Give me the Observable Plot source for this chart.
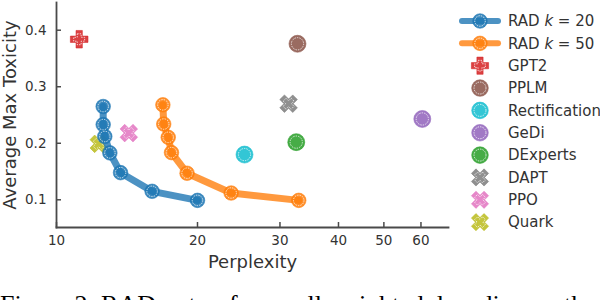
<!DOCTYPE html>
<html>
<head>
<meta charset="utf-8">
<script src="https://cdn.jsdelivr.net/npm/d3@7"></script>
<script src="https://cdn.jsdelivr.net/npm/@observablehq/plot@0.6"></script>
<style>
  html, body { margin: 0; padding: 0; background: #fff; }
  #wrap { position: relative; width: 600px; height: 300px; overflow: hidden; }
  #chart { position: absolute; left: 0; top: 0; }
  #legend { position: absolute; left: 455px; top: 0; }
  #ylabel { position: absolute; left: -110.4px; top: 105.5px; width: 240px; height: 18px;
    line-height: 18px; text-align: center; transform: rotate(-90deg);
    font-family: "DejaVu Sans", sans-serif; font-size: 18px; color: #333; white-space: nowrap; }
  #caption { position: absolute; left: 0; top: 292px; white-space: nowrap;
    font-family: "Liberation Serif", serif; font-size: 26px; line-height: 1; color: #000; }
</style>
</head>
<body>
<div id="wrap">
  <div id="chart"></div>
  <div id="ylabel">Average Max Toxicity</div>
  <div id="legend"></div>
  <div id="caption">Figure 2: RAD outperforms all weighted decoding methods</div>
</div>
<script>
// ---- data ----
const rad20Ppl = [12.58, 12.58, 12.68, 13.0, 13.7, 16.0, 20.0];
const rad20Tox = [0.265, 0.233, 0.212, 0.183, 0.148, 0.115, 0.099];
const rad50Ppl = [16.87, 16.94, 17.32, 17.6, 19.0, 23.6, 32.9];
const rad50Tox = [0.268, 0.234, 0.2105, 0.1835, 0.147, 0.112, 0.099];

const baselineNames = ["GPT2", "PPLM", "Rectification", "GeDi", "DExperts", "DAPT", "PPO", "Quark"];
const baselinePpl = [11.18, 32.7, 25.2, 60.4, 32.5, 31.3, 14.27, 12.31];
const baselineTox = [0.384, 0.376, 0.180, 0.243, 0.202, 0.270, 0.218, 0.199];
const baselineColors = ["#d62728", "#8c564b", "#17becf", "#9467bd", "#2ca02c", "#7f7f7f", "#e377c2", "#bcbd22"];
const baselineShapes = ["plus", "circle", "circle", "circle", "circle", "x", "x", "x"];

const radColors = ["#1f77b4", "#ff7f0e"];
const xTicks = [10, 20, 30, 40, 50, 60];
const yTicks = [0.1, 0.2, 0.3, 0.4];

// ---- custom symbols ----
function poly(ctx, pts) {
  ctx.moveTo(pts[0][0], pts[0][1]);
  for (let i = 1; i < pts.length; i++) ctx.lineTo(pts[i][0], pts[i][1]);
  ctx.closePath();
}
function plusPts(R, f) {
  const a = R * f;
  return [[-a,-R],[a,-R],[a,-a],[R,-a],[R,a],[a,a],[a,R],[-a,R],[-a,a],[-R,a],[-R,-a],[-a,-a]];
}
const plusSym = { draw(ctx, size) { const R = Math.sqrt(size / Math.PI); poly(ctx, plusPts(R, 0.36)); } };
const xSym = { draw(ctx, size) {
  const R = Math.sqrt(size / Math.PI);
  const f = 0.36, k = R * Math.SQRT2 / (1 + f);
  poly(ctx, plusPts(k, f).map(([x, y]) => [(x - y) / Math.SQRT2, (x + y) / Math.SQRT2]));
} };
const symFor = s => s === "plus" ? plusSym : s === "x" ? xSym : "circle";

function markerMarks(xs, ys, color, shape, r) {
  const idx = d3.range(xs.length);
  const sym = symFor(shape);
  return [
    Plot.dot(idx, {x: i => xs[i], y: i => ys[i], r, symbol: sym, fill: color, fillOpacity: 0.88,
      stroke: color, strokeOpacity: 0.55, strokeWidth: 1}),
    Plot.dot(idx, {x: i => xs[i], y: i => ys[i], r: r * (shape === "circle" ? 0.72 : 0.62), symbol: sym,
      fill: "none", stroke: "white", strokeWidth: 0.8, strokeDasharray: "1.4 1.1", strokeOpacity: 0.95})
  ];
}

const baselineMarks = baselineNames.flatMap((n, i) =>
  markerMarks([baselinePpl[i]], [baselineTox[i]], baselineColors[i], baselineShapes[i], baselineShapes[i] === "circle" ? 8.5 : 8.8));

const chart = Plot.plot({
  width: 455, height: 284,
  marginLeft: 56, marginRight: 7, marginTop: 2, marginBottom: 57,
  style: {fontFamily: "DejaVu Sans", fontSize: "13px", color: "#333", background: "transparent"},
  x: {type: "log", domain: [10, 68.7]},
  y: {domain: [0.051, 0.449]},
  marks: [
    Plot.frame({anchor: "left", stroke: "#4a4a4a", strokeWidth: 1.8}),
    Plot.frame({anchor: "bottom", stroke: "#4a4a4a", strokeWidth: 1.8}),
    Plot.axisX(xTicks, {tickSize: -5, tickPadding: 13, stroke: "#4a4a4a", strokeWidth: 1.5, fill: "#333",
      fontSize: 13.5, tickFormat: d => String(d), label: null}),
    Plot.axisY(yTicks, {tickSize: -5, tickPadding: 15, stroke: "#4a4a4a", strokeWidth: 1.5, fill: "#333",
      fontSize: 13.5, tickFormat: d => d.toFixed(1), label: null}),
    Plot.text(["Perplexity"], {frameAnchor: "bottom", dy: 35, fontSize: 18, fill: "#333", lineAnchor: "middle"}),
    ...baselineMarks,
    Plot.line(d3.range(rad20Ppl.length), {x: i => rad20Ppl[i], y: i => rad20Tox[i], stroke: radColors[0], strokeWidth: 7, strokeOpacity: 0.8}),
    ...markerMarks(rad20Ppl, rad20Tox, radColors[0], "circle", 7.3),
    Plot.line(d3.range(rad50Ppl.length), {x: i => rad50Ppl[i], y: i => rad50Tox[i], stroke: radColors[1], strokeWidth: 7, strokeOpacity: 0.8}),
    ...markerMarks(rad50Ppl, rad50Tox, radColors[1], "circle", 7.3)
  ]
});
document.getElementById("chart").appendChild(chart);

// ---- legend ----
const legendItems = [
  {label: ["RAD ", "k", " = 20"], color: radColors[0], shape: "circle", line: true},
  {label: ["RAD ", "k", " = 50"], color: radColors[1], shape: "circle", line: true},
  ...baselineNames.map((n, i) => ({label: [n], color: baselineColors[i], shape: baselineShapes[i], line: false}))
];
const lsvg = d3.create("svg").attr("width", 145).attr("height", 240)
  .style("font-family", "DejaVu Sans").style("font-size", "15px");
legendItems.forEach((it, i) => {
  const g = lsvg.append("g").attr("transform", `translate(0,${21 + i * 22.35})`);
  if (it.line) {
    g.append("line").attr("x1", 7).attr("x2", 43).attr("stroke", it.color).attr("stroke-width", 6)
      .attr("stroke-opacity", 0.8).attr("stroke-linecap", "round");
  }
  const r = it.line ? 7.3 : (it.shape === "circle" ? 8.3 : 8.6);
  const sym = symFor(it.shape);
  const symType = sym === "circle" ? d3.symbolCircle : sym;
  const rin = r * (it.shape === "circle" ? 0.72 : 0.62);
  g.append("path").attr("transform", "translate(25,0)").attr("d", d3.symbol(symType, Math.PI * r * r)())
    .attr("fill", it.color).attr("fill-opacity", 0.88).attr("stroke", it.color).attr("stroke-opacity", 0.55);
  g.append("path").attr("transform", "translate(25,0)").attr("d", d3.symbol(symType, Math.PI * rin * rin)())
    .attr("fill", "none").attr("stroke", "white").attr("stroke-width", 0.8).attr("stroke-dasharray", "1.4 1.1");
  const t = g.append("text").attr("x", 53).attr("dy", "0.35em").attr("fill", "#333");
  it.label.forEach((s, j) => {
    const ts = t.append("tspan").text(s);
    if (it.label.length > 1 && j === 1) ts.attr("font-style", "italic");
  });
});
document.getElementById("legend").appendChild(lsvg.node());
</script>
</body>
</html>
